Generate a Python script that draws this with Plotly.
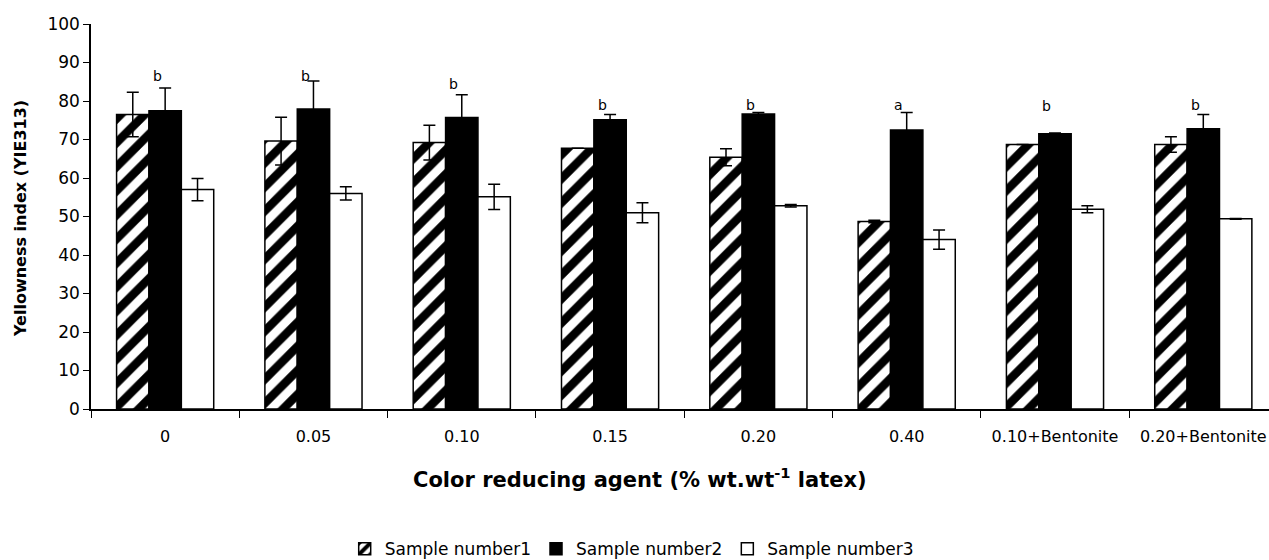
import plotly.graph_objects as go

categories = ["0", "0.05", "0.10", "0.15", "0.20", "0.40", "0.10+Bentonite", "0.20+Bentonite"]
s1 = [76.5, 69.6, 69.2, 67.7, 65.4, 48.7, 68.7, 68.7]
s1_err = [5.8, 6.2, 4.5, 0.0, 2.2, 0.3, 0.0, 2.0]
s2 = [77.5, 77.9, 75.7, 75.1, 76.6, 72.5, 71.5, 72.8]
s2_err = [5.9, 7.3, 5.9, 1.4, 0.4, 4.5, 0.2, 3.7]
s3 = [57.0, 56.0, 55.1, 51.0, 52.8, 44.0, 51.9, 49.4]
s3_err = [2.9, 1.7, 3.3, 2.6, 0.3, 2.5, 0.9, 0.1]
letters = ["b", "b", "b", "b", "b", "a", "b", "b"]
letter_y = [86.6, 86.6, 84.3, 79.0, 79.0, 79.0, 78.8, 79.0]
names = ["Sample number1", "Sample number2", "Sample number3"]

FONT = "DejaVu Sans, sans-serif"

fig = go.Figure()

def err(v):
    return dict(type="data", array=v, visible=True, color="black", thickness=1.5, width=6)

fig.add_trace(go.Bar(
    x=categories, y=s1, name=names[0], error_y=err(s1_err),
    marker=dict(color="white", line=dict(color="black", width=1.5),
                pattern=dict(shape="/", fgcolor="black", bgcolor="white", fgopacity=1,
                             fillmode="replace", size=17, solidity=0.5)),
))
fig.add_trace(go.Bar(
    x=categories, y=s2, name=names[1], error_y=err(s2_err),
    marker=dict(color="black", line=dict(color="black", width=1.5)),
))
fig.add_trace(go.Bar(
    x=categories, y=s3, name=names[2], error_y=err(s3_err),
    marker=dict(color="white", line=dict(color="black", width=1.5)),
))

for i, (t, yy) in enumerate(zip(letters, letter_y)):
    fig.add_annotation(x=i, y=yy, text=t, showarrow=False, xref="x", yref="y",
                       yanchor="middle", xshift=-8,
                       font=dict(family=FONT, size=14, color="black"))

fig.add_annotation(x=0.466, y=-0.179, xref="paper", yref="paper",
                   text="<b>Color reducing agent (% wt.wt<sup>-1</sup> latex)</b>",
                   showarrow=False, yanchor="middle",
                   font=dict(family=FONT, size=21, color="black"))
fig.add_annotation(x=-0.0603, y=0.496, xref="paper", yref="paper",
                   text="<b>Yellowness index (YIE313)</b>", textangle=-90,
                   showarrow=False, xanchor="center", yanchor="middle",
                   font=dict(family=FONT, size=16, color="black"))

fig.update_layout(
    width=1269, height=560,
    margin=dict(l=91, r=0, t=24, b=151, autoexpand=False),
    paper_bgcolor="white", plot_bgcolor="white",
    barmode="group", bargap=0.345, bargroupgap=0,
    font=dict(family=FONT, size=16, color="black"),
    showlegend=True,
    legend=dict(orientation="h", x=0.459, xanchor="center", y=-0.364, yanchor="middle",
                font=dict(family=FONT, size=17, color="black"),
                itemwidth=30, tracegroupgap=0),
    xaxis=dict(type="category", range=[-0.5, 7.443], tickson="boundaries",
               ticks="outside", ticklen=7, tickcolor="black", tickwidth=1.3,
               showline=True, linecolor="black", linewidth=1.5, tickangle=0,
               automargin=False,
               showgrid=False, zeroline=False, ticklabelstandoff=12,
               tickfont=dict(family=FONT, size=16, color="black")),
    yaxis=dict(range=[0, 100], tickmode="linear", tick0=0, dtick=10,
               ticks="outside", ticklen=6, tickcolor="black", tickwidth=1.3,
               showline=True, linecolor="black", linewidth=1.5, automargin=False,
               showgrid=False, zeroline=False,
               tickfont=dict(family=FONT, size=17, color="black")),
)

fig.write_html("out.html")
